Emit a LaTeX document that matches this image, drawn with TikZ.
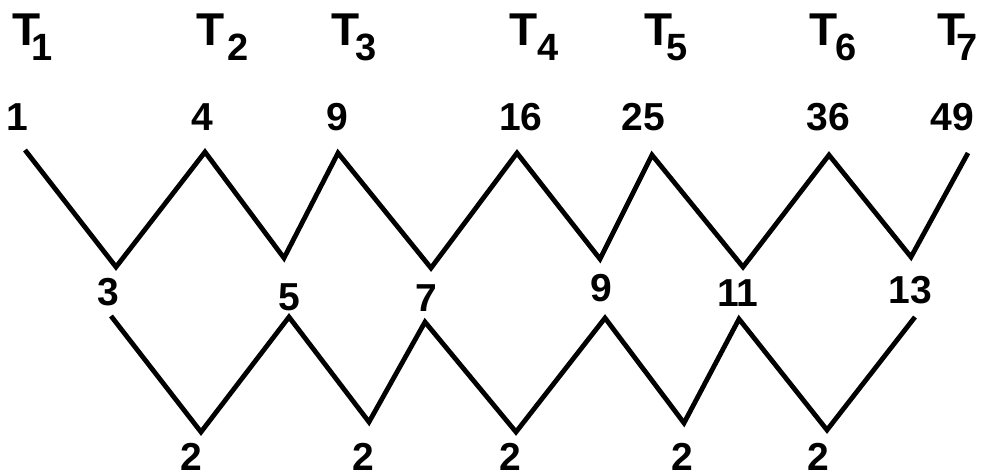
\documentclass[tikz,border=0pt]{standalone}
\usepackage{fontspec}
\setmainfont{Liberation Sans}
\newcommand{\tlab}[2]{{\fontsize{46}{46}\selectfont T}\kern#1pt\raisebox{-15pt}{\fontsize{38}{38}\selectfont #2}}
\begin{document}
\begin{tikzpicture}[x=1pt,y=-1pt,
  num/.style={inner sep=0pt,font=\fontsize{39}{39}\selectfont\bfseries},
  tl/.style={inner sep=0pt,anchor=base west,font=\bfseries},
  zz/.style={line width=4.8pt,line join=miter,black}]
\useasboundingbox (0,0) rectangle (983,475);
% T labels
\node[tl] (t1) at (12,45) {\tlab{-9}{1}};
\node[tl] (t2) at (196,45) {\tlab{3}{2}};
\node[tl] (t3) at (331,45) {\tlab{-4}{3}};
\node[tl] (t4) at (509,45) {\tlab{0}{4}};
\node[tl] (t5) at (644,45) {\tlab{-6}{5}};
\node[tl] (t6) at (809,45) {\tlab{-2}{6}};
\node[tl] (t7) at (937,45) {\tlab{-9}{7}};
% top numbers
\node[num] (a1) at (17,117) {1};
\node[num] (a2) at (202,117) {4};
\node[num] (a3) at (337,117) {9};
\node[num] (a4) at (521,117) {16};
\node[num] (a5) at (643,117) {25};
\node[num] (a6) at (828,117) {36};
\node[num] (a7) at (952,117) {49};
% middle numbers
\node[num] (m1) at (108,292) {3};
\node[num] (m2) at (289,297) {5};
\node[num] (m3) at (426,298) {7};
\node[num] (m4) at (601,288) {9};
\node[num] (m5) at (738,293) {11};
\node[num] (m6) at (910,290) {13};
% bottom numbers
\node[num] (d1) at (191,457) {2};
\node[num] (d2) at (363,457) {2};
\node[num] (d3) at (510,457) {2};
\node[num] (d4) at (682,457) {2};
\node[num] (d5) at (818,457) {2};
% top zigzag vertices
\coordinate (p1) at (25,150);
\coordinate (v1) at (116,267);
\coordinate (p2) at (205,152);
\coordinate (v2) at (284,258);
\coordinate (p3) at (338,153);
\coordinate (v3) at (431,268);
\coordinate (p4) at (517,153);
\coordinate (v4) at (600,259);
\coordinate (p5) at (652,155);
\coordinate (v5) at (743,267);
\coordinate (p6) at (829,155);
\coordinate (v6) at (911,257);
\coordinate (p7) at (968,153);
% bottom zigzag vertices
\coordinate (b0) at (111,316);
\coordinate (c1) at (201,432);
\coordinate (b1) at (289,317);
\coordinate (c2) at (369,422);
\coordinate (b2) at (425,322);
\coordinate (c3) at (516,432);
\coordinate (b3) at (605,318);
\coordinate (c4) at (684,423);
\coordinate (b4) at (739,319);
\coordinate (c5) at (827,430);
\coordinate (b5) at (915,317);
\draw[zz] (p1) -- (v1) -- (p2) -- (v2) -- (p3) -- (v3) -- (p4) -- (v4) -- (p5) -- (v5) -- (p6) -- (v6) -- (p7);
\draw[zz] (b0) -- (c1) -- (b1) -- (c2) -- (b2) -- (c3) -- (b3) -- (c4) -- (b4) -- (c5) -- (b5);
\end{tikzpicture}
\end{document}
